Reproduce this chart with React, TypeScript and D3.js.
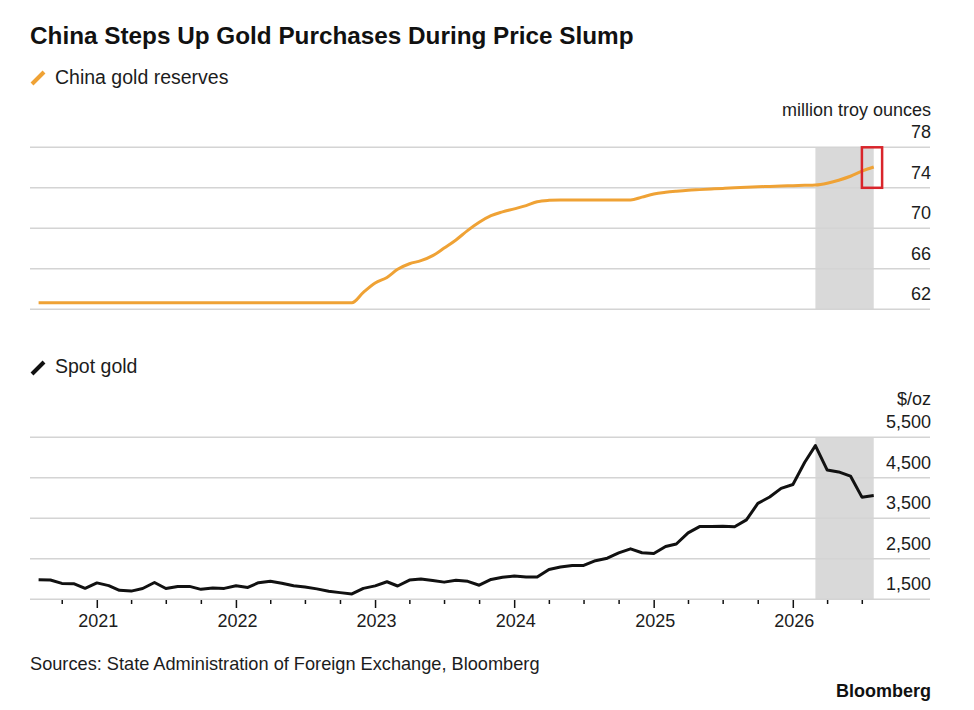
import React from 'react';
import * as d3 from 'd3';

// ---------- data ----------
const firstMonth = new Date(2020, 6, 1); // Jul 2020, monthly, month-end values
const slumpStartMonth = new Date(2026, 1, 1); // Feb 2026

// China gold reserves, million troy ounces (Jul 2020 .. Jul 2026)
const chinaReserves = [
  62.64, 62.64, 62.64, 62.64, 62.64, 62.64,
  62.64, 62.64, 62.64, 62.64, 62.64, 62.64, 62.64, 62.64, 62.64, 62.64, 62.64, 62.64,
  62.64, 62.64, 62.64, 62.64, 62.64, 62.64, 62.64, 62.64, 62.64, 62.64, 63.67, 64.6,
  65.15, 65.95, 66.5, 66.8, 67.3, 68.05, 68.85, 69.8, 70.6, 71.25, 71.62, 71.92,
  72.24, 72.62, 72.76, 72.8, 72.8, 72.8, 72.8, 72.8, 72.8, 72.8, 73.08, 73.38,
  73.55, 73.66, 73.76, 73.82, 73.88, 73.94, 74.0, 74.05, 74.1, 74.14, 74.18, 74.21,
  74.24, 74.27, 74.45, 74.75, 75.14, 75.64, 76.05,
];

// Spot gold, $/oz (Jul 2020 .. Jul 2026)
const spotGold = [
  1982, 1975, 1893, 1885, 1770, 1905,
  1838, 1722, 1702, 1766, 1915, 1766, 1818, 1818, 1746, 1778, 1769, 1833,
  1792, 1911, 1945, 1897, 1833, 1802, 1757, 1700, 1665, 1633, 1770, 1831,
  1933, 1828, 1974, 2000, 1966, 1924, 1968, 1943, 1848, 1990, 2045, 2075,
  2050, 2048, 2237, 2298, 2335, 2335, 2453, 2514, 2645, 2746, 2650, 2630,
  2802, 2865, 3140, 3295, 3295, 3306, 3290, 3460, 3868, 4025, 4240, 4335,
  4885, 5295, 4691, 4645, 4543, 4022, 4063,
];

const reserveTicks = [62, 66, 70, 74, 78];
const goldTicks = [1500, 2500, 3500, 4500, 5500];
const goldTickLabels = ['1,500', '2,500', '3,500', '4,500', '5,500'];
const yearLabels = [2021, 2022, 2023, 2024, 2025, 2026];

// highlight box around latest reserve reading
const boxStart = new Date(2026, 5, 30);
const boxEnd = new Date(2026, 7, 22);
const boxLow = 74;
const boxHigh = 78;

const titleText = 'China Steps Up Gold Purchases During Price Slump';
const legendReserves = 'China gold reserves';
const legendGold = 'Spot gold';
const unitReserves = 'million troy ounces';
const unitGold = '$/oz';
const sourceText = 'Sources: State Administration of Foreign Exchange, Bloomberg';
const brandText = 'Bloomberg';

// ---------- styling ----------
const W = 974;
const H = 710;
const FONT = '"Liberation Sans", Arial, Helvetica, sans-serif';
const ORANGE = '#efa235';
const GRID = '#d4d4d4';
const BAND = '#d9d9d9';
const TEXT = '#1c1c1c';

export default function App() {
  const monthEnds = chinaReserves.map((_, i) =>
    d3.timeDay.offset(d3.timeMonth.offset(firstMonth, i + 1), -1)
  );
  const slumpIdx = d3.timeMonth.count(firstMonth, slumpStartMonth);

  const plotLeft = 30;
  const plotRight = 930;
  const x = d3
    .scaleTime()
    .domain([new Date(2021, 0, 1), new Date(2026, 0, 1)])
    .range([97.3, 793.3]);

  const yTop = d3.scaleLinear().domain([62, 78]).range([309.3, 147.3]);
  const yBot = d3.scaleLinear().domain([1500, 5500]).range([599.3, 437.3]);

  const reserveLine = d3
    .line<number>()
    .x((_, i) => x(monthEnds[i]))
    .y((d) => yTop(d))
    .curve(d3.curveMonotoneX);
  const goldLine = d3
    .line<number>()
    .x((_, i) => x(monthEnds[i]))
    .y((d) => yBot(d));

  const bandX0 = x(monthEnds[slumpIdx]);
  const bandX1 = x(monthEnds[monthEnds.length - 1]);

  const quarterTicks = d3.timeMonth
    .every(3)!
    .range(new Date(2020, 9, 1), new Date(2026, 8, 1));

  return (
    <svg
      width={W}
      height={H}
      style={{ position: 'absolute', left: 0, top: 0, background: '#fff' }}
      fontFamily={FONT}
    >
      <rect x={0} y={0} width={W} height={H} fill="#fff" />
      <text x={30} y={44} fontSize={24.3} fontWeight="bold" fill="#111">
        {titleText}
      </text>

      {/* legend 1 */}
      <line x1={32} y1={84} x2={44} y2={72} stroke={ORANGE} strokeWidth={4} />
      <text x={55} y={84} fontSize={19.5} fill={TEXT}>
        {legendReserves}
      </text>
      <text x={931} y={116} fontSize={18} fill={TEXT} textAnchor="end">
        {unitReserves}
      </text>

      {/* top panel */}
      <rect
        x={bandX0}
        y={yTop(78)}
        width={bandX1 - bandX0}
        height={yTop(62) - yTop(78)}
        fill={BAND}
      />
      {reserveTicks.map((t) => (
        <g key={t}>
          <line
            x1={plotLeft}
            x2={plotRight}
            y1={yTop(t)}
            y2={yTop(t)}
            stroke={GRID}
            strokeWidth={1.5}
          />
          <text x={931} y={yTop(t) - 9} fontSize={18} fill={TEXT} textAnchor="end">
            {t}
          </text>
        </g>
      ))}
      <path
        d={reserveLine(chinaReserves) || ''}
        fill="none"
        stroke={ORANGE}
        strokeWidth={3}
        strokeLinejoin="round"
      />
      <rect
        x={x(boxStart)}
        y={yTop(boxHigh)}
        width={x(boxEnd) - x(boxStart)}
        height={yTop(boxLow) - yTop(boxHigh)}
        fill="none"
        stroke="#d9252b"
        strokeWidth={2.5}
      />

      {/* legend 2 */}
      <line x1={32} y1={374} x2={44} y2={362} stroke="#111" strokeWidth={4} />
      <text x={55} y={373} fontSize={19.5} fill={TEXT}>
        {legendGold}
      </text>
      <text x={931} y={405} fontSize={18} fill={TEXT} textAnchor="end">
        {unitGold}
      </text>

      {/* bottom panel */}
      <rect
        x={bandX0}
        y={yBot(5500)}
        width={bandX1 - bandX0}
        height={yBot(1500) - yBot(5500)}
        fill={BAND}
      />
      {goldTicks.map((t, i) => (
        <g key={t}>
          <line
            x1={plotLeft}
            x2={plotRight}
            y1={yBot(t)}
            y2={yBot(t)}
            stroke={GRID}
            strokeWidth={1.5}
          />
          <text x={931} y={yBot(t) - 9} fontSize={18} fill={TEXT} textAnchor="end">
            {goldTickLabels[i]}
          </text>
        </g>
      ))}
      <path
        d={goldLine(spotGold) || ''}
        fill="none"
        stroke="#111"
        strokeWidth={3}
        strokeLinejoin="round"
      />

      {/* x axis ticks */}
      {quarterTicks.map((d) => {
        const major = d.getMonth() === 0;
        const xx = x(d);
        return (
          <line
            key={d.toISOString()}
            x1={xx}
            x2={xx}
            y1={600}
            y2={major ? 608 : 604}
            stroke="#111"
            strokeWidth={1.5}
          />
        );
      })}
      {yearLabels.map((yr) => (
        <text
          key={yr}
          x={x(new Date(yr, 0, 1)) + 1}
          y={627}
          fontSize={18}
          fill={TEXT}
          textAnchor="middle"
        >
          {yr}
        </text>
      ))}

      <text x={30} y={670} fontSize={18.2} fill={TEXT}>
        {sourceText}
      </text>
      <text x={931} y={697} fontSize={18} fontWeight="bold" fill="#111" textAnchor="end">
        {brandText}
      </text>
    </svg>
  );
}
